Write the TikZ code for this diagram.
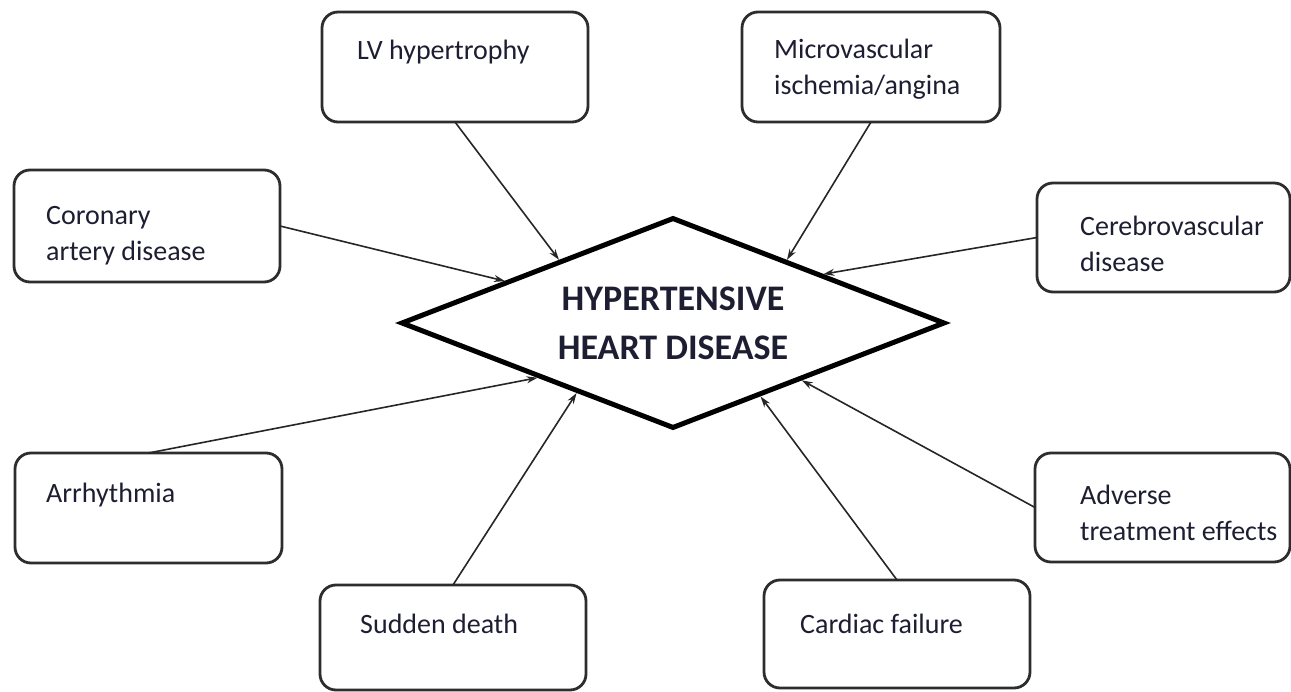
\documentclass[tikz,border=0pt]{standalone}
\usepackage{fontspec}
\setmainfont{Carlito}
\usetikzlibrary{arrows.meta,%
		positioning,%
		shapes.geometric}
\definecolor{boxgray}{RGB}{45,45,45}
\definecolor{txtdark}{RGB}{30,30,50}

\begin{document}
\begin{tikzpicture}[x=1pt,y=-1pt,
	box/.style={draw=boxgray,line width=2.8pt,rounded corners=16pt,fill=white,
		outer sep=0pt,inner sep=0pt,minimum width=266pt,minimum height=110pt},
	lbl/.style={anchor=north west,inner sep=0pt,align=left,text=txtdark,
		font=\fontsize{28}{36}\selectfont,execute at begin node=\strut},
	cause/.style={draw=black!85,line width=1.6pt,-{Stealth[length=11pt,width=7pt]}},
	hhdbox/.style={shape=diamond,draw=black,line width=5pt,fill=white,aspect=2.6,
		minimum width=544pt,minimum height=211pt,inner sep=0pt,align=center,
		text=txtdark,font=\fontsize{36}{49}\selectfont\bfseries}]
\useasboundingbox (0,0) rectangle (1291,692);

% centre
\node[hhdbox] (hhd) at (673,323) {HYPERTENSIVE\\HEART DISEASE};

% causes
\node[box] (lv) at (455,67) {};
\node[lbl] (lv-t) at ([shift={(35,21.8)}]lv.north west) {LV hypertrophy};

\node[box,minimum width=258pt] (micro) at (871,67) {};
\node[lbl] (micro-t) at ([shift={(32,26.8)}]micro.north west) {Microvascular\\ischemia/angina};

\node[box,minimum height=112pt] (cad) at (147,226) {};
\node[lbl] (cad-t) at ([shift={(32,35.8)}]cad.north west) {Coronary\\artery disease};

\node[box,minimum width=253pt,minimum height=109pt] (cvd) at (1163.5,237.5) {};
\node[lbl] (cvd-t) at ([shift={(43,33.3)}]cvd.north west) {Cerebrovascular\\disease};

\node[box,minimum width=267pt] (arr) at (148.5,508) {};
\node[lbl] (arr-t) at ([shift={(31,23.8)}]arr.north west) {Arrhythmia};

\node[box,minimum width=255pt,minimum height=109pt] (adv) at (1162.5,507.5) {};
\node[lbl] (adv-t) at ([shift={(45,31.8)}]adv.north west) {Adverse\\treatment effects};

\node[box,minimum height=105pt] (sd) at (453,637.5) {};
\node[lbl] (sd-t) at ([shift={(40,22.8)}]sd.north west) {Sudden death};

\node[box,minimum height=108pt] (cf) at (897,634) {};
\node[lbl] (cf-t) at ([shift={(36,27.8)}]cf.north west) {Cardiac failure};

% arrows
\draw[cause] (lv.south) -- (hhd.151);
\draw[cause] (micro.south) -- (hhd.29);
\draw[cause] (cad.east) -- (hhd.166);
\draw[cause] (cvd.west) -- (hhd.18.5);
\draw[cause] (arr.north) -- (hhd.202);
\draw[cause] (sd.north) -- (hhd.216.5);
\draw[cause] (cf.north) -- (hhd.320);
\draw[cause] (adv.west) -- (hhd.336);
\end{tikzpicture}
\end{document}
